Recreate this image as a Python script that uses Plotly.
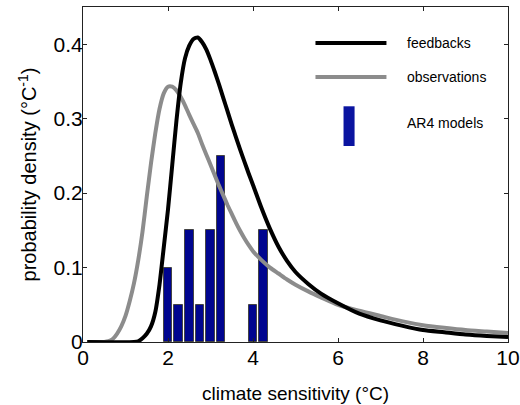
import plotly.graph_objects as go

# ---- data ----
fb_x = [0.1, 1.2, 1.3, 1.4, 1.5, 1.6, 1.7, 1.8, 1.9, 2.0, 2.1, 2.2, 2.3, 2.4, 2.5,
        2.6, 2.7, 2.8, 2.9, 3.0, 3.1, 3.2, 3.3, 3.4, 3.5, 3.6, 3.7, 3.8, 3.9, 4.0,
        4.2, 4.4, 4.6, 4.8, 5.0, 5.3, 5.6, 6.0, 6.5, 7.0, 7.5, 8.0, 8.5, 9.0, 9.5, 10.0]
fb_y = [0.0, 0.0, 0.001, 0.005, 0.011, 0.021, 0.04, 0.077, 0.127, 0.178, 0.238,
        0.298, 0.348, 0.381, 0.398, 0.407, 0.409, 0.403, 0.393, 0.379, 0.363, 0.346,
        0.328, 0.310, 0.292, 0.275, 0.258, 0.242, 0.226, 0.211, 0.180, 0.152, 0.128,
        0.109, 0.094, 0.078, 0.065, 0.052, 0.038, 0.029, 0.022, 0.016, 0.013, 0.010,
        0.008, 0.0067]

obs_x = [0.1, 0.5, 0.6, 0.7, 0.8, 0.9, 1.0, 1.1, 1.2, 1.3, 1.4, 1.5, 1.6, 1.7, 1.8,
         1.9, 2.0, 2.1, 2.2, 2.3, 2.4, 2.5, 2.6, 2.7, 2.8, 2.9, 3.0, 3.1, 3.2, 3.3,
         3.4, 3.5, 3.6, 3.7, 3.8, 3.9, 4.0, 4.2, 4.4, 4.6, 4.8, 5.0, 5.3, 5.6, 6.0,
         6.5, 7.0, 7.5, 8.0, 8.5, 9.0, 9.5, 10.0]
obs_y = [0.0, 0.0, 0.001, 0.004, 0.011, 0.021, 0.035, 0.055, 0.079, 0.11, 0.148,
         0.195, 0.24, 0.28, 0.313, 0.334, 0.343, 0.343, 0.338, 0.329, 0.318, 0.305,
         0.293, 0.281, 0.266, 0.252, 0.238, 0.224, 0.210, 0.197, 0.184, 0.172, 0.160,
         0.149, 0.139, 0.130, 0.122, 0.110, 0.100, 0.092, 0.084, 0.077, 0.068, 0.060,
         0.050, 0.042, 0.035, 0.028, 0.0225, 0.019, 0.016, 0.014, 0.012]

ar4_x = [2.0, 2.25, 2.5, 2.75, 3.0, 3.25, 4.0, 4.25]
ar4_y = [0.10, 0.05, 0.15, 0.05, 0.15, 0.25, 0.05, 0.15]

x_ticks = [0, 2, 4, 6, 8, 10]
y_ticks = [0, 0.1, 0.2, 0.3, 0.4]
y_tick_labels = ["0", "0.1", "0.2", "0.3", "0.4"]

legend_names = ["feedbacks", "observations", "AR4 models"]

BLUE = "#00058F"
GRAY = "#8c8c8c"
FONT = "Liberation Sans, Arial, Helvetica, sans-serif"

fig = go.Figure()
fig.add_trace(go.Scatter(x=obs_x, y=obs_y, mode="lines",
                         line=dict(color=GRAY, width=4, shape="spline", smoothing=0.6),
                         showlegend=False))
fig.add_trace(go.Scatter(x=fb_x, y=fb_y, mode="lines",
                         line=dict(color="black", width=4, shape="spline", smoothing=0.6),
                         showlegend=False))
fig.add_trace(go.Bar(x=ar4_x, y=ar4_y, width=0.205,
                     marker=dict(color=BLUE, line=dict(color="#444444", width=1)),
                     showlegend=False))

# manual legend (paper coordinates)
fig.add_shape(type="line", xref="paper", yref="paper", x0=0.547, x1=0.714,
              y0=0.8925, y1=0.8925, line=dict(color="black", width=4))
fig.add_shape(type="line", xref="paper", yref="paper", x0=0.547, x1=0.714,
              y0=0.791, y1=0.791, line=dict(color=GRAY, width=4))
fig.add_shape(type="rect", xref="paper", yref="paper", x0=0.613, x1=0.639,
              y0=0.585, y1=0.7036, line=dict(width=0), fillcolor="#0a14a0")
for name, yy in zip(legend_names, [0.8925, 0.791, 0.654]):
    fig.add_annotation(xref="paper", yref="paper", x=0.7586, y=yy, text=name,
                       showarrow=False, xanchor="left", yanchor="middle",
                       font=dict(family=FONT, size=14, color="black"))

fig.update_layout(
    width=520, height=405,
    margin=dict(l=83, r=12, t=7, b=63),
    paper_bgcolor="white", plot_bgcolor="white",
    font=dict(family=FONT, color="black", size=14),
    bargap=0,
)
fig.update_xaxes(range=[0, 10], tickvals=x_ticks, ticks="inside", ticklen=4,
                 showline=True, linecolor="#222222", linewidth=1, mirror="ticks",
                 tickcolor="#222222", showgrid=False, zeroline=False, automargin=False,
                 tickfont=dict(family=FONT, size=21), ticklabelstandoff=-3,
                 title=dict(text="climate sensitivity (°C)",
                            font=dict(family=FONT, size=19), standoff=18))
fig.update_yaxes(range=[0, 0.45], tickvals=y_ticks, ticktext=y_tick_labels,
                 ticks="inside", ticklen=4,
                 showline=True, linecolor="#222222", linewidth=1, mirror="ticks",
                 tickcolor="#222222", showgrid=False, zeroline=False, automargin=False,
                 tickfont=dict(family=FONT, size=21), ticklabelstandoff=-5,
                 title=dict(text="probability density (°C<sup>-1</sup>)",
                            font=dict(family=FONT, size=20), standoff=11))

fig.write_html("out.html")
